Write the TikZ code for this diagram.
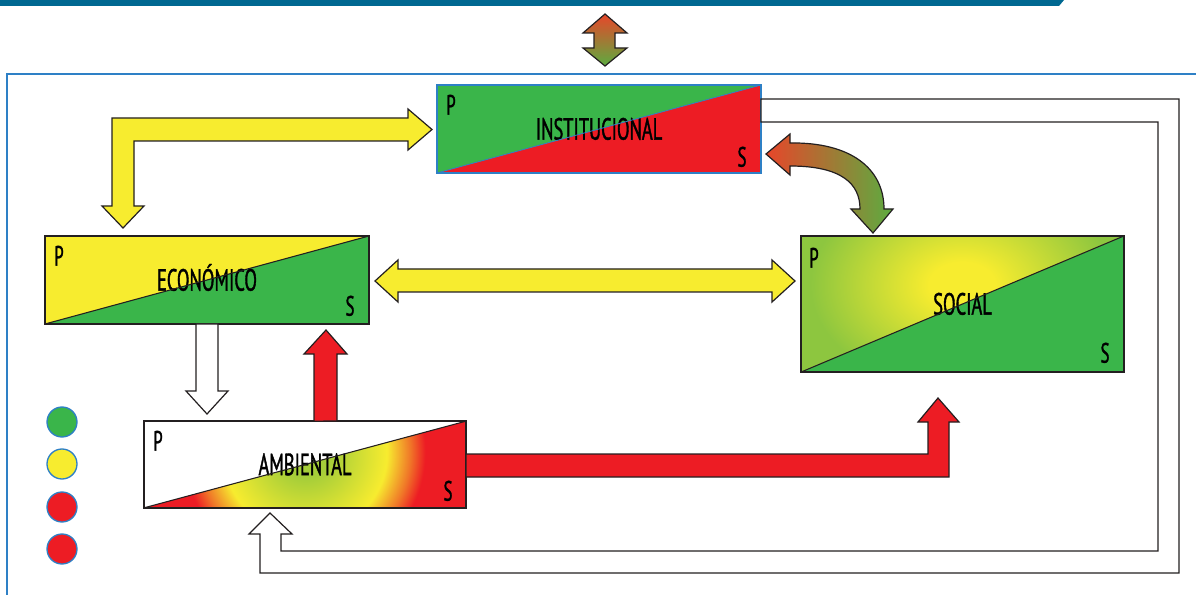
\documentclass[tikz,border=0pt]{standalone}
\usepackage{fontspec}
\setmainfont[FakeStretch=0.6,FakeBold=1.2]{PT Sans}
\usetikzlibrary{backgrounds}

\definecolor{leafgreen}{RGB}{58,181,74}
\definecolor{alertred}{RGB}{237,28,36}
\definecolor{sunyellow}{RGB}{247,236,47}
\definecolor{limegreen}{RGB}{141,198,63}
\definecolor{coregreen}{RGB}{166,206,57}
\definecolor{warmorange}{RGB}{240,120,40}
\definecolor{frameblue}{RGB}{46,128,198}
\definecolor{bandblue}{RGB}{0,104,145}
\definecolor{arrowred}{RGB}{231,70,42}
\definecolor{arrowgreen}{RGB}{92,172,64}
\definecolor{inkline}{RGB}{35,31,32}

% 25bp is the rim of the shaded path
\pgfdeclareradialshading{socglow}{\pgfpoint{0bp}{0bp}}{color(0bp)=(sunyellow); color(5bp)=(sunyellow); color(23bp)=(limegreen); color(50bp)=(limegreen)}
\pgfdeclareradialshading{ambglow}{\pgfpoint{0bp}{0bp}}{color(0bp)=(coregreen); color(5bp)=(coregreen); color(16bp)=(sunyellow); color(20.5bp)=(warmorange); color(23.5bp)=(alertred); color(50bp)=(alertred)}

\begin{document}
\begin{tikzpicture}[x=0.75pt,y=0.75pt,yscale=-1,xscale=1,
  box/.style={draw=inkline, line width=1.1pt, inner sep=0pt, outer sep=0pt, minimum width=243pt},
  lbl/.style={font=\fontsize{23}{23}\selectfont, text height=16pt, text depth=0pt},
  corner/.style={font=\fontsize{21}{21}\selectfont, text height=14.5pt, text depth=0pt, inner sep=0pt},
  blockarrow/.style={draw=inkline, line width=0.9pt, line join=miter},
  dot/.style={circle, draw=frameblue, line width=1pt, minimum size=22.5pt, inner sep=0pt}]
\useasboundingbox (0,0) rectangle (1196,595);

% Band and frame
\fill[bandblue] (0,0) -- (1064,0) -- (1059,6) -- (0,6) -- cycle;
\draw[frameblue, line width=2pt] (7,595) -- (7,74) -- (1196,74);

% Boxes
\node[box, lbl, draw=frameblue, line width=0.9pt, minimum height=66pt] (inst) at (599,129) {INSTITUCIONAL};
\node[box, lbl, minimum height=66pt] (eco) at (207,280) {ECONÓMICO};
\node[box, lbl, minimum width=242pt, minimum height=102pt] (soc) at (962.5,304) {SOCIAL};
\node[box, lbl, minimum width=241.5pt, minimum height=65pt] (amb) at (305,464.5) {AMBIENTAL};

\begin{scope}[on background layer]
\fill[leafgreen] (inst.north west) -- (inst.north east) -- (inst.south west) -- cycle;
\fill[alertred] (inst.north east) -- (inst.south east) -- (inst.south west) -- cycle;
\fill[sunyellow] (eco.north west) -- (eco.north east) -- (eco.south west) -- cycle;
\fill[leafgreen] (eco.north east) -- (eco.south east) -- (eco.south west) -- cycle;
\fill[leafgreen] (soc.north east) -- (soc.south east) -- (soc.south west) -- cycle;
\begin{scope}
\clip (soc.north west) -- (soc.north east) -- (soc.south west) -- cycle;
\fill[limegreen] (soc.north west) rectangle (soc.south east);
\shade[shading=socglow] (962,285) ellipse (165 and 115);
\end{scope}
\begin{scope}
\clip (amb.north east) -- (amb.south east) -- (amb.south west) -- cycle;
\fill[alertred] (amb.north west) rectangle (amb.south east);
\shade[shading=ambglow] (305,452) circle (128);
\end{scope}
\end{scope}

% Diagonals
\draw[frameblue, line width=0.6pt] (inst.south west) -- (inst.north east);
\draw[inkline, line width=0.8pt] (eco.south west) -- (eco.north east);
\draw[inkline, line width=0.8pt] (soc.south west) -- (soc.north east);
\draw[inkline, line width=0.8pt] (amb.south west) -- (amb.north east);

% Text Node
\node[corner] (instP) at (451,105) {P};
\node[corner] (instS) at (742,157) {S};
\node[corner] (ecoP) at (59,256) {P};
\node[corner] (ecoS) at (350,306) {S};
\node[corner] (socP) at (814,258) {P};
\node[corner] (socS) at (1105,353) {S};
\node[corner] (ambP) at (158,441) {P};
\node[corner] (ambS) at (448,491) {S};

% Legend
\node[dot, fill=leafgreen] (dotG) at (62,422) {};
\node[dot, fill=sunyellow] (dotY) at (62,464) {};
\node[dot, fill=alertred] (dotR) at (62,507) {};
\node[dot, fill=alertred] (dotRR) at (62,549) {};

% Connection
\draw[blockarrow, top color=arrowred, bottom color=arrowgreen] (605,14) -- (627,33) -- (615,33) -- (615,48) -- (627,48) -- (605,66) -- (583,48) -- (594,48) -- (594,33) -- (583,33) -- cycle;

% Connection
\draw[blockarrow, fill=sunyellow] (112,206) -- (112,118) -- (408,118) -- (408,109) -- (432,129.5) -- (408,150) -- (408,141) -- (134,141) -- (134,206) -- (144,206) -- (123,228) -- (102,206) -- cycle;

% Connection
\draw[blockarrow, fill=sunyellow] (375,281) -- (398,260) -- (398,269) -- (772,269) -- (772,260) -- (795,281) -- (772,302) -- (772,292) -- (398,292) -- (398,302) -- cycle;

% Connection
\draw[blockarrow, left color=arrowred, right color=arrowgreen] (790,143) .. controls (850,142) and (884,168) .. (884,209) -- (893,209) -- (873,233) -- (851,209) -- (860,209) .. controls (860,184) and (842,166) .. (790,166) -- (790,175) -- (766,154) -- (790,134) -- cycle;

% Connection
\draw[blockarrow, fill=white] (eco.south -| 196,0) -- (218,324) -- (218,391) -- (228,391) -- (207,414) -- (186,391) -- (196,391) -- cycle;

% Connection
\draw[blockarrow, fill=alertred] (amb.north -| 314,0) -- (314,354) -- (304,354) -- (326,330) -- (347,354) -- (337,354) -- (337,421) -- cycle;

% Connection
\draw[blockarrow, fill=alertred] (amb.east |- 0,454) -- (928,454) -- (928,422) -- (918,422) -- (938,398) -- (959,422) -- (949,422) -- (949,477) -- (466,477) -- cycle;

% Connection
\draw[blockarrow, fill=white] (inst.east |- 0,99) -- (1179,99) -- (1179,573) -- (260,573) -- (260,534) -- (249,534) -- (270,513) -- (292,534) -- (281,534) -- (281,551) -- (1158,551) -- (1158,122) -- (761,122) -- cycle;

\end{tikzpicture}
\end{document}
